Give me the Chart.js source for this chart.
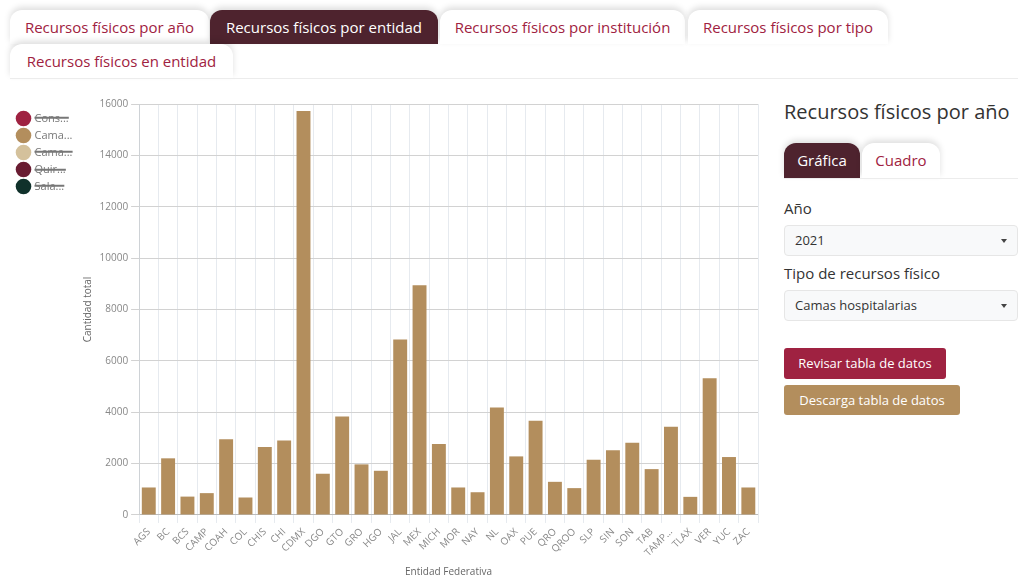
<!DOCTYPE html>
<html><head><meta charset="utf-8">
<script src="https://cdn.jsdelivr.net/npm/chart.js@4"></script>
<style>
body{margin:0;width:1018px;height:588px;overflow:hidden;background:#fff;font-family:"Open Sans",sans-serif;position:relative}
.tab{position:absolute;height:34px;line-height:34px;text-align:center;color:#9f2241;font-size:15px;border-radius:12px 12px 0 0;background:#fff;box-shadow:0 -3px 6px rgba(0,0,0,0.13);box-sizing:border-box;white-space:nowrap}
.tab.active{background:#4e232e;color:#fff}
.hline{position:absolute;height:1px;background:#ececec}
.txt{position:absolute;color:#333;white-space:nowrap}
.sel{position:absolute;left:784px;width:234px;height:31px;background:#f8f9fa;border:1px solid #e6e6e6;border-radius:4px;box-sizing:border-box;font-size:13px;line-height:29px;padding-left:10px;color:#333}
.sel:after{content:"";position:absolute;right:10px;top:13px;border-left:3.5px solid transparent;border-right:3.5px solid transparent;border-top:4px solid #444}
.btn{position:absolute;left:784px;height:31px;line-height:31px;color:#fff;font-size:13px;border-radius:3px;text-align:center}
#wrap{position:absolute;left:0;top:88px;width:770px;height:497px}
</style></head><body>
<div class="tab" style="left:10px;top:10px;width:199px">Recursos físicos por año</div>
<div class="tab active" style="left:210px;top:10px;width:228px">Recursos físicos por entidad</div>
<div class="tab" style="left:440px;top:10px;width:245px">Recursos físicos por institución</div>
<div class="tab" style="left:688px;top:10px;width:200px">Recursos físicos por tipo</div>
<div class="tab" style="left:10px;top:44px;width:223px">Recursos físicos en entidad</div>
<div class="hline" style="left:10px;top:78px;width:1008px"></div>

<div class="txt" style="left:784px;top:97px;font-size:20px;line-height:30px">Recursos físicos por año</div>
<div class="tab active" style="left:784px;top:143px;width:76px;height:35px;line-height:35px">Gráfica</div>
<div class="tab" style="left:862px;top:143px;width:78px;height:35px;line-height:35px">Cuadro</div>
<div class="hline" style="left:784px;top:178px;width:234px"></div>
<div class="txt" style="left:784px;top:197px;font-size:15px;line-height:22px">Año</div>
<div class="sel" style="top:225px">2021</div>
<div class="txt" style="left:784px;top:262px;font-size:15px;line-height:22px">Tipo de recursos físico</div>
<div class="sel" style="top:290px">Camas hospitalarias</div>
<div class="btn" style="top:348px;width:162px;background:#9f2241">Revisar tabla de datos</div>
<div class="btn" style="top:385px;width:176px;height:30px;line-height:30px;background:#b38e5d">Descarga tabla de datos</div>

<div id="wrap"><canvas id="c"></canvas></div>
<script>
const categories = ['AGS','BC','BCS','CAMP','COAH','COL','CHIS','CHI','CDMX','DGO','GTO','GRO','HGO','JAL','MEX','MICH','MOR','NAY','NL','OAX','PUE','QRO','QROO','SLP','SIN','SON','TAB','TAMPS','TLAX','VER','YUC','ZAC'];
const camasHospitalarias = [1070,2205,715,850,2950,680,2650,2895,15730,1605,3835,1970,1720,6835,8945,2765,1070,885,4185,2280,3665,1290,1045,2150,2515,2815,1785,3430,705,5320,2255,1070];
const seriesNames = ['Consultorios','Camas hospitalarias','Camas no censables','Quirófanos','Salas de expulsión'];
const seriesColors = ['#9f2241','#b38e5d','#d4c19c','#691c32','#10312b'];
const seriesHidden = [true,false,true,true,true];
const seriesData = [[],camasHospitalarias,[],[],[]];
const yMax = 16000, yStep = 2000;

const datasets = seriesNames.map((n,i)=>({
  label:n, data:seriesData[i], backgroundColor:seriesColors[i], borderColor:seriesColors[i], hidden:seriesHidden[i]
}));
const trunc = (s,n)=> s.length>n ? s.slice(0,n)+'...' : s;

Chart.defaults.font.family = '"Open Sans", sans-serif';
Chart.defaults.color = '#666';
new Chart(document.getElementById('c'),{
  type:'bar',
  data:{labels:categories, datasets},
  options:{
    responsive:true, maintainAspectRatio:false, animation:false,
    layout:{padding:{left:12,right:12,top:16,bottom:3}},
    plugins:{
      tooltip:{enabled:false},
      legend:{position:'left',align:'start',
        title:{display:true,text:'',font:{size:2.5},padding:0},
        labels:{usePointStyle:true,pointStyle:'circle',font:{size:11},padding:6,color:'#777',
          generateLabels:(chart)=>{
            const items = Chart.defaults.plugins.legend.labels.generateLabels(chart);
            items.forEach(it=>{it.text = trunc(it.text,4);});
            return items;
          }}}
    },
    scales:{
      x:{grid:{color:'#e6eaef'},
         ticks:{minRotation:45,maxRotation:45,autoSkip:false,font:{size:10},color:'#888',
           callback:function(v){return trunc(this.getLabelForValue(v),4);}},
         title:{display:true,text:'Entidad Federativa',font:{size:10},color:'#666',padding:{top:4,bottom:4}}},
      y:{min:0,max:yMax,grid:{color:'#d2d2d2'},
         ticks:{stepSize:yStep,font:{size:10},color:'#888',callback:(v)=>String(v)},
         title:{display:true,text:'Cantidad total',font:{size:10},color:'#666',padding:{top:0,bottom:2}}}
    }
  }
});
</script>
</body></html>
